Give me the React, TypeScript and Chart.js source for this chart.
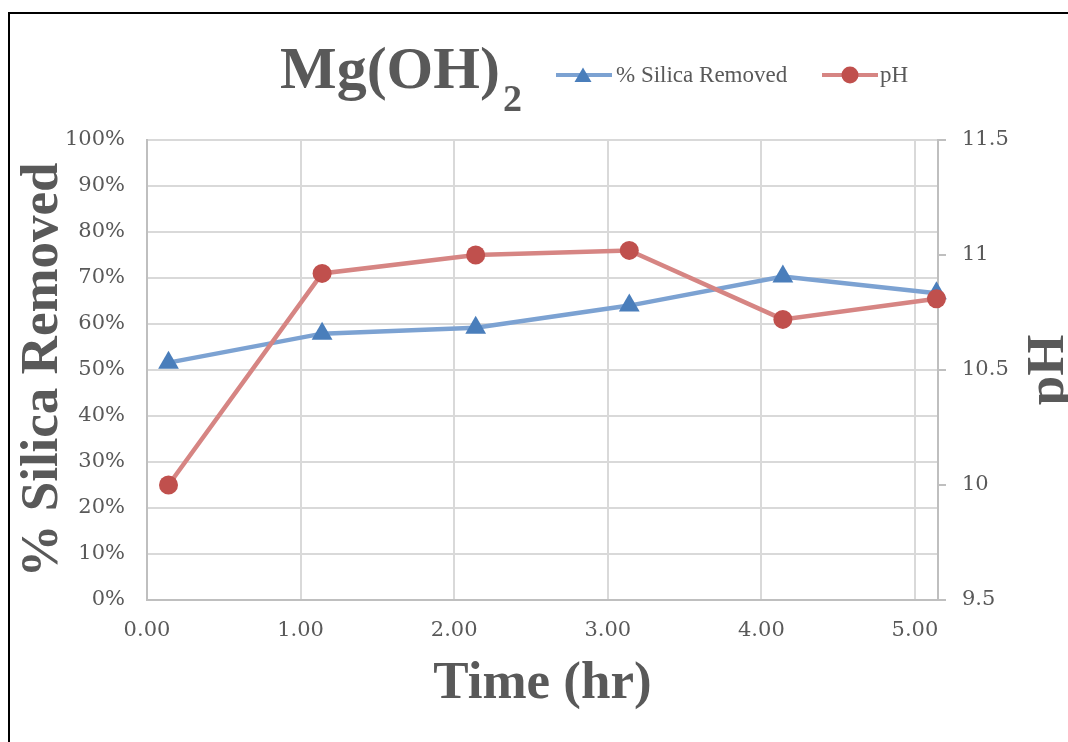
import React, { useEffect, useRef } from 'react';
import { Chart, registerables } from 'chart.js';

Chart.register(...registerables);

// ---- data ----
const timeHours = [0.14, 1.14, 2.14, 3.14, 4.14, 5.14];
const silicaRemoved = [51.6, 57.9, 59.2, 64.0, 70.3, 66.7];
const phValues = [10.0, 10.92, 11.0, 11.02, 10.72, 10.81];

const xTickValues = [0, 1, 2, 3, 4, 5];
const silicaTickValues = [0, 10, 20, 30, 40, 50, 60, 70, 80, 90, 100];
const phTickValues = [9.5, 10, 10.5, 11, 11.5];

const chartTitle = 'Mg(OH)';
const chartTitleSub = '2';
const seriesNames = ['% Silica Removed', 'pH'];
const xTitle = 'Time (hr)';
const yTitle = '% Silica Removed';
const y1Title = 'pH';

const TEXT = '#595959';
const BLUE_LINE = '#7ca2d2';
const BLUE_MARK = '#4a7ebb';
const RED_LINE = '#d68583';
const RED_MARK = '#c0504d';

const decorPlugin = {
  id: 'decor',
  afterDraw(chart: any) {
    const ctx = chart.ctx as CanvasRenderingContext2D;
    ctx.save();
    // Title with subscript
    ctx.fillStyle = TEXT;
    ctx.textBaseline = 'alphabetic';
    ctx.textAlign = 'left';
    ctx.font = 'bold 60px "Liberation Serif"';
    const tx = 280;
    ctx.fillText(chartTitle, tx, 88);
    const w = ctx.measureText(chartTitle).width;
    ctx.font = 'bold 38px "Liberation Serif"';
    ctx.fillText(chartTitleSub, tx + w + 3, 111);

    // Legend
    const ly = 75;
    // silica
    ctx.strokeStyle = BLUE_LINE;
    ctx.lineWidth = 4;
    ctx.beginPath();
    ctx.moveTo(556, ly);
    ctx.lineTo(612, ly);
    ctx.stroke();
    ctx.fillStyle = BLUE_MARK;
    ctx.beginPath();
    ctx.moveTo(583, ly - 7.5);
    ctx.lineTo(591.5, ly + 7);
    ctx.lineTo(574.5, ly + 7);
    ctx.closePath();
    ctx.fill();
    ctx.fillStyle = TEXT;
    ctx.font = '23px "Liberation Serif"';
    ctx.fillText(seriesNames[0], 616, 82);
    // pH
    ctx.strokeStyle = RED_LINE;
    ctx.beginPath();
    ctx.moveTo(822, ly);
    ctx.lineTo(878, ly);
    ctx.stroke();
    ctx.fillStyle = RED_MARK;
    ctx.beginPath();
    ctx.arc(850, ly, 8.5, 0, Math.PI * 2);
    ctx.fill();
    ctx.fillStyle = TEXT;
    ctx.fillText(seriesNames[1], 880, 82);

    // Right axis title (reads bottom to top)
    const ca = chart.chartArea;
    ctx.font = 'bold 53px "Liberation Serif"';
    ctx.translate(1063, (ca.top + ca.bottom) / 2);
    ctx.rotate(-Math.PI / 2);
    ctx.textAlign = 'center';
    ctx.textBaseline = 'alphabetic';
    ctx.fillText(y1Title, 0, 0);
    ctx.restore();
  },
};

export default function App() {
  const canvasRef = useRef<HTMLCanvasElement | null>(null);

  useEffect(() => {
    if (!canvasRef.current) return;
    const tickFont = { family: '"DejaVu Serif"', size: 21 };
    const titleFont = { family: '"Liberation Serif"', size: 53, weight: 'bold' as const };
    const chart = new Chart(canvasRef.current, {
      type: 'line',
      data: {
        datasets: [
          {
            label: seriesNames[0],
            data: timeHours.map((t, i) => ({ x: t, y: silicaRemoved[i] })),
            yAxisID: 'y',
            borderColor: BLUE_LINE,
            backgroundColor: BLUE_MARK,
            borderWidth: 4.5,
            pointStyle: 'triangle',
            pointRadius: 12,
            pointBackgroundColor: BLUE_MARK,
            pointBorderColor: BLUE_MARK,
            pointBorderWidth: 0,
            tension: 0,
            clip: false as any,
            order: 1,
          },
          {
            label: seriesNames[1],
            data: timeHours.map((t, i) => ({ x: t, y: phValues[i] })),
            yAxisID: 'y1',
            borderColor: RED_LINE,
            backgroundColor: RED_MARK,
            borderWidth: 4.5,
            pointStyle: 'circle',
            pointRadius: 9.5,
            pointBackgroundColor: RED_MARK,
            pointBorderColor: RED_MARK,
            pointBorderWidth: 0,
            tension: 0,
            clip: false as any,
            order: 0,
          },
        ],
      },
      options: {
        animation: false,
        responsive: false,
        maintainAspectRatio: false,
        layout: { padding: { top: 140, left: 0, right: 0, bottom: 0 } },
        plugins: {
          legend: { display: false },
          title: { display: false },
          tooltip: { enabled: false },
        },
        scales: {
          x: {
            type: 'linear',
            min: 0,
            max: 5.15,
            afterBuildTicks: (scale: any) => {
              scale.ticks = xTickValues.map((v) => ({ value: v }));
            },
            afterFit: (scale: any) => {
              scale.height = 142;
            },
            ticks: {
              font: tickFont,
              color: TEXT,
              padding: 18,
              maxRotation: 0,
              callback: (v: any) => Number(v).toFixed(2),
            },
            grid: { color: '#d9d9d9', lineWidth: 2, drawTicks: false },
            border: { display: true, color: '#bfbfbf', width: 2 },
            title: {
              display: true,
              text: xTitle,
              color: TEXT,
              font: titleFont,
              padding: { top: 0, bottom: 26 },
            },
          },
          y: {
            type: 'linear',
            position: 'left',
            min: 0,
            max: 100,
            afterBuildTicks: (scale: any) => {
              scale.ticks = silicaTickValues.map((v) => ({ value: v }));
            },
            afterFit: (scale: any) => {
              scale.width = 147;
            },
            ticks: {
              font: tickFont,
              color: TEXT,
              padding: 22,
              callback: (v: any) => `${v}%`,
            },
            grid: { color: '#d9d9d9', lineWidth: 2, drawTicks: false },
            border: { display: true, color: '#bfbfbf', width: 2 },
            title: {
              display: true,
              text: yTitle,
              color: TEXT,
              font: titleFont,
              padding: { top: 12, bottom: 0 },
            },
          },
          y1: {
            type: 'linear',
            position: 'right',
            min: 9.5,
            max: 11.5,
            afterBuildTicks: (scale: any) => {
              scale.ticks = phTickValues.map((v) => ({ value: v }));
            },
            afterFit: (scale: any) => {
              scale.width = 130;
            },
            ticks: {
              font: tickFont,
              color: TEXT,
              padding: 16,
              callback: (v: any) => String(v),
            },
            grid: {
              drawOnChartArea: false,
              drawTicks: true,
              tickLength: 8,
              color: '#bfbfbf',
              lineWidth: 2,
            },
            border: { display: true, color: '#bfbfbf', width: 2 },
          },
        },
      },
      plugins: [decorPlugin],
    } as any);
    return () => chart.destroy();
  }, []);

  return (
    <div style={{ position: 'fixed', left: 0, top: 0, width: 1068, height: 742, background: '#ffffff', overflow: 'hidden' }}>
      <div
        style={{
          position: 'absolute',
          left: 8,
          top: 12,
          width: 1200,
          height: 900,
          border: '2px solid #000000',
          boxSizing: 'border-box',
        }}
      />
      <canvas
        ref={canvasRef}
        width={1068}
        height={742}
        style={{ position: 'absolute', left: 0, top: 0, width: 1068, height: 742, display: 'block' }}
      />
    </div>
  );
}
